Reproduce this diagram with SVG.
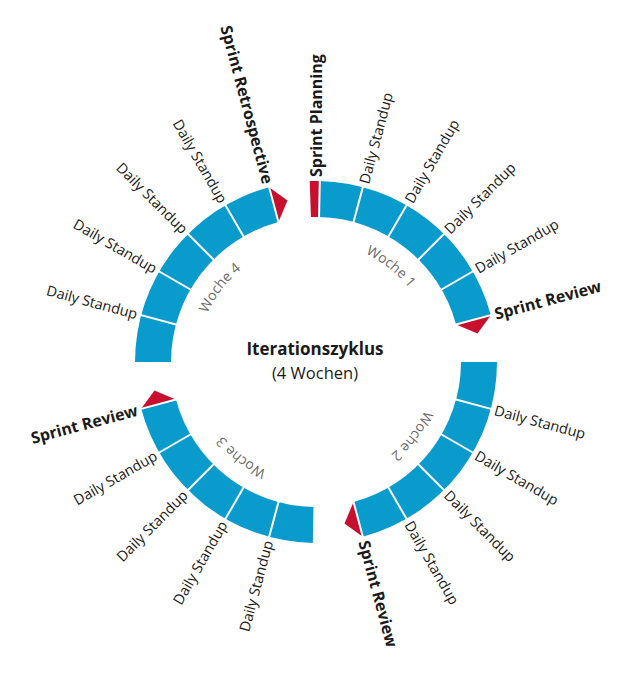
<svg xmlns="http://www.w3.org/2000/svg" width="629" height="675" viewBox="0 0 629 675">
<style>
.blue{fill:#0A9BCD}
.red{fill:#C8102E}
.div{stroke:#fff;stroke-width:2;fill:none}
.t{font-family:"Open Sans","Noto Sans","Liberation Sans",sans-serif;fill:#1a1a1a}
.ds{font-size:14.5px}
.ev{font-size:16px;font-weight:bold}
.wk{font-size:14px;fill:#6b6b6b}
</style>
<defs>
<path id="ring" d="M316,243 A119,119 0 1 1 316,481 A119,119 0 1 1 316,243"/>
</defs>
<rect width="629" height="675" fill="#fff"/>

<g id="center">
<text class="t" x="315" y="355" text-anchor="middle" font-size="17" font-weight="bold">Iterationszyklus</text>
<text class="t" x="315" y="379" text-anchor="middle" font-size="16.5">(4 Wochen)</text>
</g>

<g id="woche1">
<path class="red" d="M309.68,181.11 A181,181 0 0 1 319.79,181.04 L319.04,217.03 A145,145 0 0 0 310.94,217.09 Z"/>
<path class="blue" d="M319.79,181.04 A181,181 0 0 1 490.83,315.15 L456.06,324.47 A145,145 0 0 0 319.04,217.03 Z"/>
<polygon class="red" points="490.83,315.15 456.06,324.47 477.51,333.52"/>
<g class="div">
<line x1="319.02" y1="218.03" x2="319.81" y2="180.04"/>
<line x1="353.27" y1="222.91" x2="363.11" y2="186.2"/>
<line x1="388" y1="237.29" x2="407" y2="204.38"/>
<line x1="417.82" y1="260.18" x2="444.69" y2="233.31"/>
<line x1="440.71" y1="290" x2="473.62" y2="271"/>
<line x1="455.09" y1="324.73" x2="491.8" y2="314.89"/>
</g>
<text class="t wk"><textPath href="#ring" startOffset="79" text-anchor="middle">Woche 1</textPath></text>
<text class="t ev" transform="translate(316,177) rotate(-90)" dy="0.36em">Sprint Planning</text>
<text class="t ds" transform="translate(363.88,183.3) rotate(-75)" dy="0.36em">Daily Standup</text>
<text class="t ds" transform="translate(408.5,201.78) rotate(-60)" dy="0.36em">Daily Standup</text>
<text class="t ds" transform="translate(446.82,231.18) rotate(-45)" dy="0.36em">Daily Standup</text>
<text class="t ds" transform="translate(476.22,269.5) rotate(-30)" dy="0.36em">Daily Standup</text>
<text class="t ev" transform="translate(494.7,314.12) rotate(-15)" dy="0.36em">Sprint Review</text>
</g>

<g id="woche2">
<path class="blue" d="M497,362 A181,181 0 0 1 362.85,536.83 L353.53,502.06 A145,145 0 0 0 461,362 Z"/>
<polygon class="red" points="362.85,536.83 353.53,502.06 344.48,523.51"/>
<g class="div">
<line x1="455.09" y1="399.27" x2="491.8" y2="409.11"/>
<line x1="440.71" y1="434" x2="473.62" y2="453"/>
<line x1="417.82" y1="463.82" x2="444.69" y2="490.69"/>
<line x1="388" y1="486.71" x2="407" y2="519.62"/>
<line x1="353.27" y1="501.09" x2="363.11" y2="537.8"/>
</g>
<text class="t wk"><textPath href="#ring" startOffset="264.8" text-anchor="middle">Woche 2</textPath></text>
<text class="t ds" transform="translate(494.7,409.88) rotate(15)" dy="0.36em">Daily Standup</text>
<text class="t ds" transform="translate(476.22,454.5) rotate(30)" dy="0.36em">Daily Standup</text>
<text class="t ds" transform="translate(446.82,492.82) rotate(45)" dy="0.36em">Daily Standup</text>
<text class="t ds" transform="translate(408.5,522.22) rotate(60)" dy="0.36em">Daily Standup</text>
<text class="t ev" transform="translate(363.88,540.7) rotate(75)" dy="0.36em">Sprint Review</text>
</g>

<g id="woche3">
<path class="blue" d="M312.84,542.97 A181,181 0 0 1 141.17,408.85 L175.94,399.53 A145,145 0 0 0 313.47,506.98 Z"/>
<polygon class="red" points="141.17,408.85 175.94,399.53 154.49,390.48"/>
<g class="div">
<line x1="278.73" y1="501.09" x2="268.89" y2="537.8"/>
<line x1="244" y1="486.71" x2="225" y2="519.62"/>
<line x1="214.18" y1="463.82" x2="187.31" y2="490.69"/>
<line x1="191.29" y1="434" x2="158.38" y2="453"/>
<line x1="176.91" y1="399.27" x2="140.2" y2="409.11"/>
</g>
<text class="t wk"><textPath href="#ring" startOffset="452.8" text-anchor="middle">Woche 3</textPath></text>
<text class="t ds" text-anchor="end" transform="translate(268.12,540.7) rotate(-75)" dy="0.36em">Daily Standup</text>
<text class="t ds" text-anchor="end" transform="translate(223.5,522.22) rotate(-60)" dy="0.36em">Daily Standup</text>
<text class="t ds" text-anchor="end" transform="translate(185.18,492.82) rotate(-45)" dy="0.36em">Daily Standup</text>
<text class="t ds" text-anchor="end" transform="translate(155.78,454.5) rotate(-30)" dy="0.36em">Daily Standup</text>
<text class="t ev" text-anchor="end" transform="translate(137.3,409.88) rotate(-15)" dy="0.36em">Sprint Review</text>
</g>

<g id="woche4">
<path class="blue" d="M135,362 A181,181 0 0 1 269.15,187.17 L278.47,221.94 A145,145 0 0 0 171,362 Z"/>
<polygon class="red" points="269.15,187.17 278.47,221.94 287.52,200.49"/>
<g class="div">
<line x1="176.91" y1="324.73" x2="140.2" y2="314.89"/>
<line x1="191.29" y1="290" x2="158.38" y2="271"/>
<line x1="214.18" y1="260.18" x2="187.31" y2="233.31"/>
<line x1="244" y1="237.29" x2="225" y2="204.38"/>
<line x1="278.73" y1="222.91" x2="268.89" y2="186.2"/>
</g>
<text class="t wk"><textPath href="#ring" startOffset="638.6" text-anchor="middle">Woche 4</textPath></text>
<text class="t ds" text-anchor="end" transform="translate(137.3,314.12) rotate(15)" dy="0.36em">Daily Standup</text>
<text class="t ds" text-anchor="end" transform="translate(155.78,269.5) rotate(30)" dy="0.36em">Daily Standup</text>
<text class="t ds" text-anchor="end" transform="translate(185.18,231.18) rotate(45)" dy="0.36em">Daily Standup</text>
<text class="t ds" text-anchor="end" transform="translate(223.5,201.78) rotate(60)" dy="0.36em">Daily Standup</text>
<text class="t ev" text-anchor="end" transform="translate(268.12,183.3) rotate(75)" dy="0.36em">Sprint Retrospective</text>
</g>

<g id="connectors"/>
</svg>
